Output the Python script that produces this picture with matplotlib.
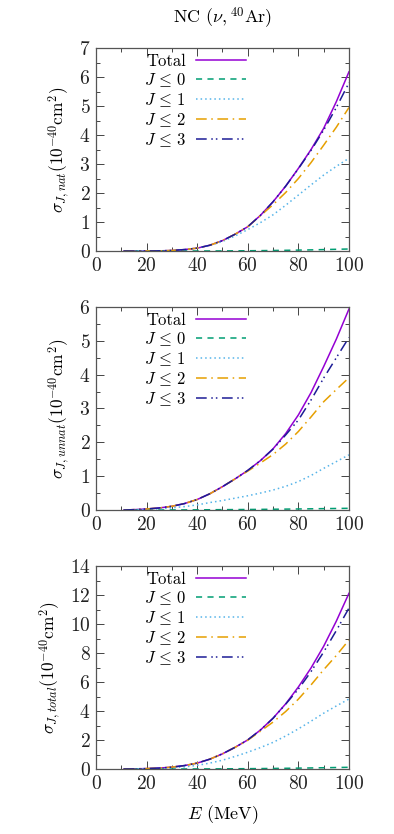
import numpy as np
import matplotlib
matplotlib.use('Agg')
import matplotlib.pyplot as plt
from matplotlib.ticker import MultipleLocator

#computer modern look
matplotlib.rcParams['font.family'] = 'serif'
matplotlib.rcParams['font.serif'] = ['cmr10']
matplotlib.rcParams['mathtext.fontset'] = 'cm'
matplotlib.rcParams['axes.formatter.use_mathtext'] = True
matplotlib.rcParams['font.size'] = 12

E = [11, 15, 20, 25, 30, 35, 40, 45, 50, 55, 60, 65, 70, 75, 80, 85, 90, 95, 100]

# natural parity
nat_total = [0, 0.0, 0.002, 0.006, 0.02, 0.05, 0.1, 0.2, 0.36, 0.58, 0.84, 1.23, 1.7, 2.24, 2.85, 3.5, 4.23, 5.15, 6.18]
nat_j0 = [0, 0, 0, 0, 0, 0.001, 0.002, 0.003, 0.005, 0.007, 0.01, 0.014, 0.019, 0.025, 0.032, 0.04, 0.05, 0.06, 0.07]
nat_j1 = [0, 0.0, 0.002, 0.006, 0.02, 0.05, 0.1, 0.19, 0.33, 0.52, 0.74, 0.98, 1.25, 1.58, 1.93, 2.28, 2.62, 2.92, 3.2]
nat_j2 = [0, 0.0, 0.002, 0.006, 0.02, 0.05, 0.1, 0.2, 0.36, 0.58, 0.84, 1.22, 1.6, 2.02, 2.5, 3.05, 3.65, 4.27, 4.95]
nat_j3 = [0, 0.0, 0.002, 0.006, 0.02, 0.05, 0.1, 0.2, 0.36, 0.58, 0.84, 1.23, 1.7, 2.24, 2.84, 3.47, 4.17, 4.95, 5.8]

# unnatural parity
unnat_total = [0, 0.01, 0.03, 0.06, 0.11, 0.19, 0.31, 0.48, 0.69, 0.92, 1.17, 1.46, 1.81, 2.26, 2.81, 3.47, 4.24, 5.05, 5.94]
unnat_j0 = [0, 0, 0, 0.001, 0.002, 0.003, 0.005, 0.007, 0.01, 0.012, 0.015, 0.018, 0.022, 0.026, 0.03, 0.035, 0.04, 0.045, 0.05]
unnat_j1 = [0, 0.005, 0.015, 0.035, 0.065, 0.1, 0.15, 0.22, 0.28, 0.35, 0.42, 0.5, 0.59, 0.7, 0.84, 1.02, 1.23, 1.43, 1.63]
unnat_j2 = [0, 0.01, 0.03, 0.06, 0.11, 0.19, 0.31, 0.48, 0.69, 0.92, 1.15, 1.39, 1.64, 1.95, 2.32, 2.75, 3.2, 3.56, 3.91]
unnat_j3 = [0, 0.01, 0.03, 0.06, 0.11, 0.19, 0.31, 0.48, 0.69, 0.92, 1.17, 1.46, 1.8, 2.22, 2.66, 3.25, 3.9, 4.5, 5.1]

# total
tot_total = [0, 0.01, 0.032, 0.066, 0.13, 0.24, 0.41, 0.68, 1.05, 1.5, 2.01, 2.69, 3.51, 4.5, 5.66, 6.97, 8.47, 10.2, 12.12]
tot_j0 = [0, 0, 0, 0.001, 0.002, 0.004, 0.007, 0.01, 0.015, 0.019, 0.025, 0.032, 0.041, 0.051, 0.062, 0.075, 0.09, 0.105, 0.12]
tot_j1 = [0, 0.005, 0.017, 0.041, 0.085, 0.15, 0.25, 0.41, 0.61, 0.87, 1.16, 1.48, 1.84, 2.28, 2.77, 3.3, 3.85, 4.35, 4.83]
tot_j2 = [0, 0.01, 0.032, 0.066, 0.13, 0.24, 0.41, 0.68, 1.05, 1.5, 1.99, 2.61, 3.24, 3.97, 4.82, 5.8, 6.85, 7.83, 8.9]
tot_j3 = [0, 0.01, 0.032, 0.066, 0.13, 0.24, 0.41, 0.68, 1.05, 1.5, 2.01, 2.69, 3.5, 4.48, 5.51, 6.72, 8.07, 9.55, 11.1]

labels = ['Total', r'$J\,\leq\,0$', r'$J\,\leq\,1$', r'$J\,\leq\,2$', r'$J\,\leq\,3$']
colors = ['#9400D3', '#009E73', '#56B4E9', '#E69F00', '#1c1c96']
styles = ['-', (0, (4, 3.5)), (0, (1, 2)), (0, (7, 3, 1, 3)), (0, (7, 3, 1, 2, 1, 3))]

panels = [
    ([nat_total, nat_j0, nat_j1, nat_j2, nat_j3], r'$\sigma_{J,nat}(10^{-40}\mathrm{cm}^2)$', 7, 1),
    ([unnat_total, unnat_j0, unnat_j1, unnat_j2, unnat_j3], r'$\sigma_{J,unnat}(10^{-40}\mathrm{cm}^2)$', 6, 1),
    ([tot_total, tot_j0, tot_j1, tot_j2, tot_j3], r'$\sigma_{J,total}(10^{-40}\mathrm{cm}^2)$', 14, 2),
]

fig = plt.figure(figsize=(3.94, 8.34), dpi=100)
bottoms = [0.699, 0.3885, 0.0779]

for (series, ylab, ymax, ystep), b in zip(panels, bottoms):
    ax = fig.add_axes([0.2437, b, 0.642, 0.2434])
    for y, lab, c, ls in zip(series, labels, colors, styles):
        ax.plot(E, y, color=c, linestyle=ls, lw=1.1, label=lab)
    ax.set_xlim(0, 100)
    ax.set_ylim(0, ymax)
    ax.xaxis.set_major_locator(MultipleLocator(20))
    ax.xaxis.set_minor_locator(MultipleLocator(10))
    ax.yaxis.set_major_locator(MultipleLocator(ystep))
    ax.yaxis.set_minor_locator(MultipleLocator(ystep / 2))
    ax.tick_params(which='both', direction='in', top=True, right=True, colors='#444444',
                   labelcolor='#222222', labelsize=14)
    ax.tick_params(which='major', length=6, width=0.7, pad=4)
    ax.tick_params(which='minor', length=3, width=0.7)
    for s in ax.spines.values():
        s.set_color('#555555')
        s.set_linewidth(0.9)
    ax.set_ylabel(ylab, fontsize=12.5, labelpad=5)
    ax.legend(loc='upper right', bbox_to_anchor=(0.62, 1.005), frameon=False, markerfirst=False,
              handlelength=3.0, handletextpad=0.6, labelspacing=0.12, borderaxespad=0.0,
              fontsize=12)

fig.text(0.565, 1 - 18 / 834, r'NC $(\nu,^{40}\mathrm{Ar})$', ha='center', va='center', fontsize=13)
fig.text(0.565, 1 - 815 / 834, r'$E$ (MeV)', ha='center', va='center', fontsize=13)

fig.savefig('out.png', dpi=100)
